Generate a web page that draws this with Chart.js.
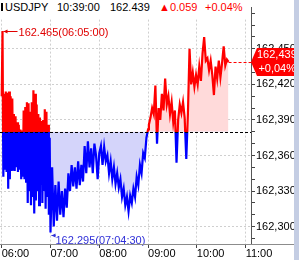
<!DOCTYPE html>
<html>
<head>
<meta charset="utf-8">
<script src="https://cdn.jsdelivr.net/npm/chart.js@4.4.1/dist/chart.umd.min.js"></script>
<style>
  body { margin: 0; background: #fff; }
  #wrap { position: relative; width: 299px; height: 260px; overflow: hidden; font-family: "Liberation Sans", Arial, sans-serif; }
  #chart { position: absolute; left: 0; top: 0; }
  #head { position: absolute; left: 0; top: 0; width: 250px; height: 19px; background: #fff; font-size: 11px; line-height: 13px; white-space: nowrap; }
  #head span { position: absolute; top: 1px; }
  #head .mark { left: 1px; top: 3px; width: 2px; height: 8px; background: #000; }
  #strip { position: absolute; right: 0; top: 0; width: 5px; height: 260px; background: #c4cde3; }
</style>
</head>
<body>
<div id="wrap">
  <canvas id="chart" width="299" height="260"></canvas>
  <div id="head">
    <span class="mark"></span>
    <span style="left:5px">USDJPY</span>
    <span style="left:57px">10:39:00</span>
    <span style="left:110px">162.439</span>
    <span style="left:159px;color:#f00">▲0.059</span>
    <span style="left:205px;color:#f00">+0.04%</span>
  </div>
  <div id="strip"></div>
</div>
<script>
// reference level (previous close) and last trade
const prevClose = 162.380;
const lastPrice = 162.439;

const hourLabels = ['06:00', '07:00', '08:00', '09:00', '10:00', '11:00'];
const yLabelValues = [162.300, 162.330, 162.360, 162.390, 162.420, 162.450];

// 06:00 - 07:00, one value per minute
const early = [
  162.410, 162.465, 162.342, 162.412, 162.348, 162.414, 162.346, 162.413, 162.332, 162.414,
  162.340, 162.410, 162.347, 162.408, 162.348, 162.395, 162.347, 162.393, 162.350, 162.388,
  162.346, 162.386, 162.348, 162.382, 162.340, 162.381, 162.342, 162.398, 162.340, 162.401,
  162.338, 162.405, 162.320, 162.404, 162.330, 162.397, 162.318, 162.405, 162.325, 162.415,
  162.311, 162.412, 162.322, 162.403, 162.330, 162.395, 162.318, 162.392, 162.335, 162.389,
  162.320, 162.390, 162.330, 162.399, 162.315, 162.397, 162.325, 162.386, 162.310, 162.375,
  162.295
];
// 07:02 - 09:00, every 2 minutes
const mid = [
  162.350, 162.300, 162.335, 162.305, 162.338, 162.310, 162.330, 162.308, 162.332, 162.316,
  162.345, 162.330, 162.352, 162.334, 162.350, 162.332, 162.355, 162.335, 162.352, 162.338,
  162.368, 162.345, 162.372, 162.350, 162.366, 162.345, 162.370, 162.360, 162.340, 162.362,
  162.368, 162.352, 162.367, 162.355, 162.360, 162.345, 162.355, 162.340, 162.350, 162.336,
  162.345, 162.333, 162.340, 162.325, 162.332, 162.318, 162.325, 162.313, 162.326, 162.320,
  162.332, 162.325, 162.342, 162.335, 162.352, 162.345, 162.362, 162.358, 162.375, 162.382
];
// 09:01 - 10:39, every 2 minutes
const late = [
  162.386, 162.392, 162.400, 162.395, 162.419, 162.370, 162.400, 162.390, 162.412, 162.398,
  162.425, 162.403, 162.410, 162.395, 162.405, 162.388, 162.398, 162.354, 162.390, 162.403,
  162.396, 162.405, 162.392, 162.357, 162.395, 162.450, 162.420, 162.430, 162.418, 162.428,
  162.420, 162.435, 162.423, 162.446, 162.460, 162.440, 162.442, 162.432, 162.440, 162.428,
  162.411, 162.435, 162.425, 162.440, 162.426, 162.438, 162.452, 162.436, 162.441, 162.439
];

const highText = '162.465(06:05:00)';
const lowText = '162.295(07:04:30)';
const boxText = ['162,439', '+0,04%'];

// minutes after 06:00
const points = [];
early.forEach((v, i) => points.push({x: i, y: v}));
mid.forEach((v, i) => points.push({x: 62 + 2 * i, y: v}));
late.forEach((v, i) => points.push({x: 181 + 2 * i, y: v}));

Chart.defaults.font.family = '"Liberation Sans", Arial, sans-serif';
Chart.defaults.font.size = 11;
Chart.defaults.color = '#000';

const isLabeled = v => yLabelValues.some(l => Math.abs(l - v) < 1e-6);

// red above the previous close, blue below
function lineColor(ctx) {
  const chart = ctx.chart;
  const a = chart.chartArea;
  if (!a) return '#f00';
  const yb = chart.scales.y.getPixelForValue(prevClose);
  const f = Math.min(1, Math.max(0, (yb - a.top) / (a.bottom - a.top)));
  const g = chart.ctx.createLinearGradient(0, a.top, 0, a.bottom);
  g.addColorStop(0, '#ff0000');
  g.addColorStop(f, '#ff0000');
  g.addColorStop(f, '#0000ff');
  g.addColorStop(1, '#0000ff');
  return g;
}

function arrow(ctx, x0, x1, y) {
  ctx.beginPath();
  ctx.moveTo(x0, y); ctx.lineTo(x1, y); ctx.stroke();
  ctx.beginPath();
  ctx.moveTo(x0, y); ctx.lineTo(x0 + 4, y - 2); ctx.lineTo(x0 + 4, y + 2); ctx.closePath(); ctx.fill();
}

const overlay = {
  id: 'overlay',
  afterDatasetsDraw(chart) {
    const {ctx, chartArea: a, scales: {x, y}} = chart;
    ctx.save();
    ctx.lineWidth = 1;
    // previous close
    const yb = Math.round(y.getPixelForValue(prevClose)) + 0.5;
    ctx.strokeStyle = '#000';
    ctx.setLineDash([3, 2]);
    ctx.beginPath(); ctx.moveTo(a.left, yb); ctx.lineTo(a.right, yb); ctx.stroke();
    // last price line
    const last = points[points.length - 1];
    const yl = Math.round(y.getPixelForValue(last.y)) + 0.5;
    ctx.strokeStyle = '#f00';
    ctx.beginPath(); ctx.moveTo(x.getPixelForValue(last.x), yl); ctx.lineTo(a.right, yl); ctx.stroke();
    ctx.setLineDash([]);

    // high and low markers
    let hi = points[0], lo = points[0];
    points.forEach(p => { if (p.y > hi.y) hi = p; if (p.y < lo.y) lo = p; });
    ctx.font = '11px "Liberation Sans", Arial, sans-serif';
    ctx.textBaseline = 'middle';
    ctx.textAlign = 'left';
    const hx = x.getPixelForValue(hi.x), hy = Math.round(y.getPixelForValue(hi.y)) + 0.5;
    ctx.strokeStyle = ctx.fillStyle = '#e00000';
    arrow(ctx, hx + 1, hx + 15, hy);
    ctx.fillText(highText, hx + 16, hy + 1);
    const lx = x.getPixelForValue(lo.x), ly = Math.round(y.getPixelForValue(lo.y)) + 2.5;
    ctx.strokeStyle = ctx.fillStyle = '#3030d8';
    arrow(ctx, lx + 1, lx + 5, ly);
    ctx.fillText(lowText, lx + 5, ly + 5);
    ctx.restore();
  },
  afterDraw(chart) {
    const {ctx, chartArea: a, scales: {y}} = chart;
    ctx.save();
    // bottom axis line runs under the price scale too
    ctx.strokeStyle = '#8c8c8c';
    ctx.lineWidth = 1;
    ctx.beginPath(); ctx.moveTo(0, a.bottom + 0.5); ctx.lineTo(chart.width, a.bottom + 0.5); ctx.stroke();
    // last price tag
    const yl = Math.round(y.getPixelForValue(lastPrice));
    ctx.fillStyle = '#f00';
    ctx.beginPath();
    ctx.moveTo(a.right, yl);
    ctx.lineTo(a.right + 6, yl - 14);
    ctx.lineTo(chart.width, yl - 14);
    ctx.lineTo(chart.width, yl + 14);
    ctx.lineTo(a.right + 6, yl + 14);
    ctx.closePath();
    ctx.fill();
    ctx.fillStyle = '#fff';
    ctx.font = '11px "Liberation Sans", Arial, sans-serif';
    ctx.textBaseline = 'middle';
    ctx.textAlign = 'left';
    ctx.fillText(boxText[0], a.right + 6, yl - 7);
    ctx.textAlign = 'right';
    ctx.fillText(boxText[1], chart.width - 3, yl + 7);
    ctx.restore();
  }
};

new Chart(document.getElementById('chart'), {
  type: 'line',
  data: {
    datasets: [{
      data: points,
      borderColor: lineColor,
      borderWidth: 2.2,
      pointRadius: 0,
      tension: 0,
      fill: {target: {value: prevClose}, above: '#ffdada', below: '#d4d4fa'}
    }]
  },
  options: {
    responsive: false,
    animation: false,
    devicePixelRatio: 1,
    layout: {padding: 0},
    plugins: {legend: {display: false}, tooltip: {enabled: false}},
    scales: {
      x: {
        type: 'linear',
        min: -2.1,
        max: 306.6,
        afterFit: s => { s.height = 16; },
        border: {display: false, dash: [2, 2]},
        grid: {color: '#cfcfcf', tickColor: '#444', tickLength: 4},
        ticks: {
          stepSize: 60, includeBounds: false, autoSkip: false, maxRotation: 0,
          align: 'start', padding: -1,
          callback: v => hourLabels[Math.round(v / 60)] || ''
        }
      },
      y: {
        position: 'right',
        min: 162.2853,
        max: 162.4848,
        afterFit: s => { s.width = 48; },
        border: {color: '#555', dash: [2, 2]},
        grid: {
          color: c => (c.tick && isLabeled(c.tick.value)) ? '#cfcfcf' : 'rgba(0,0,0,0)',
          tickColor: '#444',
          tickLength: 4
        },
        ticks: {
          stepSize: 0.01, includeBounds: false, autoSkip: false, padding: 1,
          callback: v => isLabeled(v) ? v.toFixed(3).replace('.', ',') : ''
        }
      }
    }
  },
  plugins: [overlay]
});
</script>
</body>
</html>
